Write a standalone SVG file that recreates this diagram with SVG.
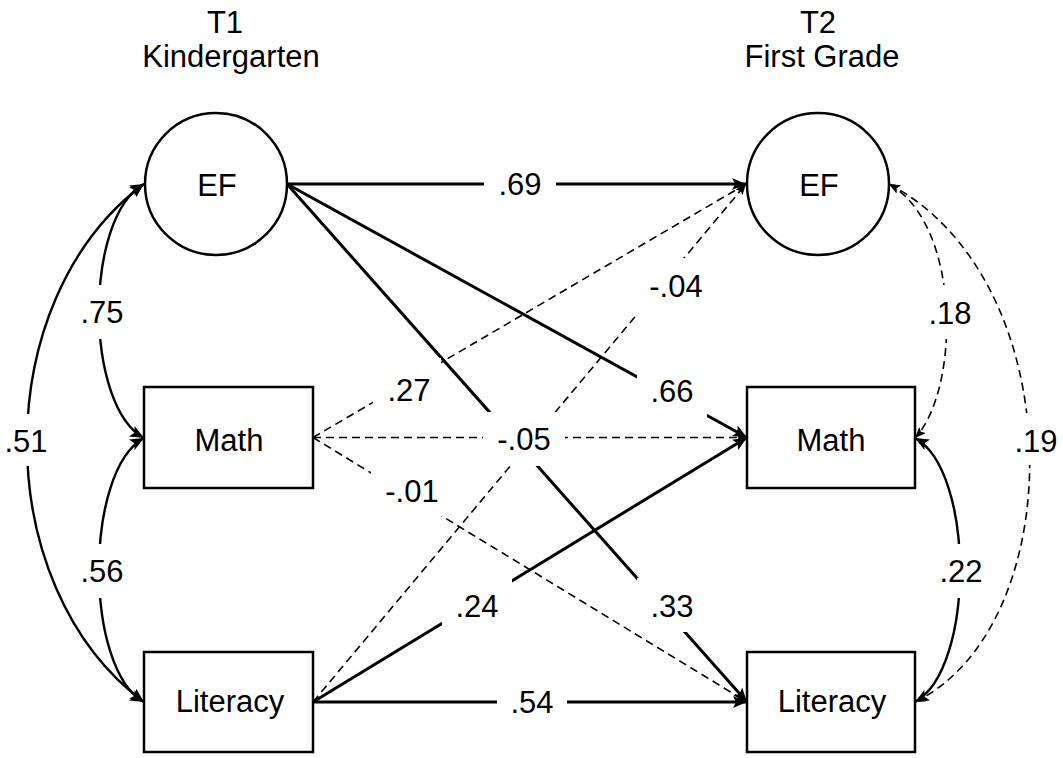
<svg xmlns="http://www.w3.org/2000/svg" width="1063" height="758" viewBox="0 0 1063 758">
<style>
text{font-family:"Liberation Sans",Arial,Helvetica,sans-serif;font-size:31px;fill:#000;text-anchor:middle}
.node{fill:#fff;stroke:#000;stroke-width:2.5}
.s{fill:none;stroke:#000;stroke-width:3}
.sc{fill:none;stroke:#000;stroke-width:2.4}
.d{fill:none;stroke:#000;stroke-width:1.6;stroke-dasharray:8 5}
.bg{fill:#fff;stroke:none}
</style>
<defs>
<marker id="ah" markerUnits="userSpaceOnUse" markerWidth="15" markerHeight="13" refX="14" refY="6" orient="auto-start-reverse" viewBox="0 0 15 13">
<path d="M0,0 L14,6 L0,12 L3,6 Z" fill="#000"/>
</marker>
<marker id="ahd" markerUnits="userSpaceOnUse" markerWidth="12" markerHeight="10" refX="11" refY="4.5" orient="auto-start-reverse" viewBox="0 0 12 10">
<path d="M0,0 L11,4.5 L0,9 L2.5,4.5 Z" fill="#000"/>
</marker>
</defs>
<rect width="1063" height="758" fill="#fff"/>
<g id="headers">
<text x="225" y="33">T1</text>
<text x="231" y="67">Kindergarten</text>
<text x="818" y="33">T2</text>
<text x="822" y="67">First Grade</text>
</g>
<g id="connectors">
<path class="s" d="M287,184 L746,184" marker-end="url(#ah)"/>
<path class="s" d="M287,184 L747,437.5" marker-end="url(#ah)"/>
<path class="s" d="M287,184 L747,702" marker-end="url(#ah)"/>
<path class="d" d="M313,437.5 L746,184" marker-end="url(#ahd)"/>
<path class="d" d="M313,437.5 L747,437.5" marker-end="url(#ahd)"/>
<path class="d" d="M313,437.5 L747,702" marker-end="url(#ahd)"/>
<path class="d" d="M313,702 L746,184" marker-end="url(#ahd)"/>
<path class="s" d="M313,702 L747,437.5" marker-end="url(#ah)"/>
<path class="s" d="M313,702 L747,702" marker-end="url(#ah)"/>
<path class="sc" d="M144,184 C84,217 84,405 144,438" marker-start="url(#ah)" marker-end="url(#ah)"/>
<path class="sc" d="M144,438 C84,471 84,669 144,702" marker-start="url(#ah)" marker-end="url(#ah)"/>
<path class="sc" d="M144,184 C-12,300 -12,586 144,702" marker-start="url(#ah)" marker-end="url(#ah)"/>
<path class="d" d="M889,184 C962,225 960,390 915,438" marker-start="url(#ahd)" marker-end="url(#ahd)"/>
<path class="sc" d="M915,438 C975,471 975,669 915,702" marker-start="url(#ah)" marker-end="url(#ah)"/>
<path class="d" d="M889,184 C1072,280 1072,625 915,702" marker-start="url(#ahd)" marker-end="url(#ahd)"/>
<g id="edge-labels">
<rect class="bg" x="484" y="158" width="72" height="52"/><text x="520" y="195">.69</text>
<rect class="bg" x="637" y="367" width="70" height="54"/><text x="672" y="402">.66</text>
<rect class="bg" x="637" y="578" width="70" height="54"/><text x="672" y="617">.33</text>
<rect class="bg" x="373" y="358" width="68" height="50"/><text x="409" y="401">.27</text>
<rect class="bg" x="483" y="412" width="82" height="54"/><text x="524" y="450">-.05</text>
<rect class="bg" x="371" y="462" width="82" height="54"/><text x="412" y="502">-.01</text>
<rect class="bg" x="635" y="258" width="82" height="55"/><text x="676" y="297">-.04</text>
<rect class="bg" x="442" y="578" width="70" height="54"/><text x="477" y="617">.24</text>
<rect class="bg" x="497" y="675" width="70" height="54"/><text x="532" y="713">.54</text>
<rect class="bg" x="67" y="285" width="70" height="54"/><text x="102" y="323">.75</text>
<rect class="bg" x="67" y="544" width="70" height="54"/><text x="102" y="582">.56</text>
<rect class="bg" x="-9" y="414" width="70" height="52"/><text x="26" y="452">.51</text>
<rect class="bg" x="915" y="285" width="70" height="54"/><text x="950" y="324">.18</text>
<rect class="bg" x="926" y="544" width="70" height="54"/><text x="961" y="582">.22</text>
<rect class="bg" x="1001" y="413" width="70" height="52"/><text x="1036" y="452">.19</text>
</g>
</g>
<g id="EF1"><circle class="node" cx="216" cy="184" r="71"/><text x="217" y="196">EF</text></g>
<g id="EF2"><circle class="node" cx="818" cy="184" r="71"/><text x="819" y="196">EF</text></g>
<g id="Math1"><rect class="node" x="144" y="387" width="169" height="101"/><text x="229" y="451">Math</text></g>
<g id="Math2"><rect class="node" x="747" y="387" width="168" height="101"/><text x="831" y="451">Math</text></g>
<g id="Literacy1"><rect class="node" x="144" y="652" width="169" height="100"/><text x="230" y="712">Literacy</text></g>
<g id="Literacy2"><rect class="node" x="747" y="652" width="168" height="100"/><text x="832" y="712">Literacy</text></g>
</svg>
